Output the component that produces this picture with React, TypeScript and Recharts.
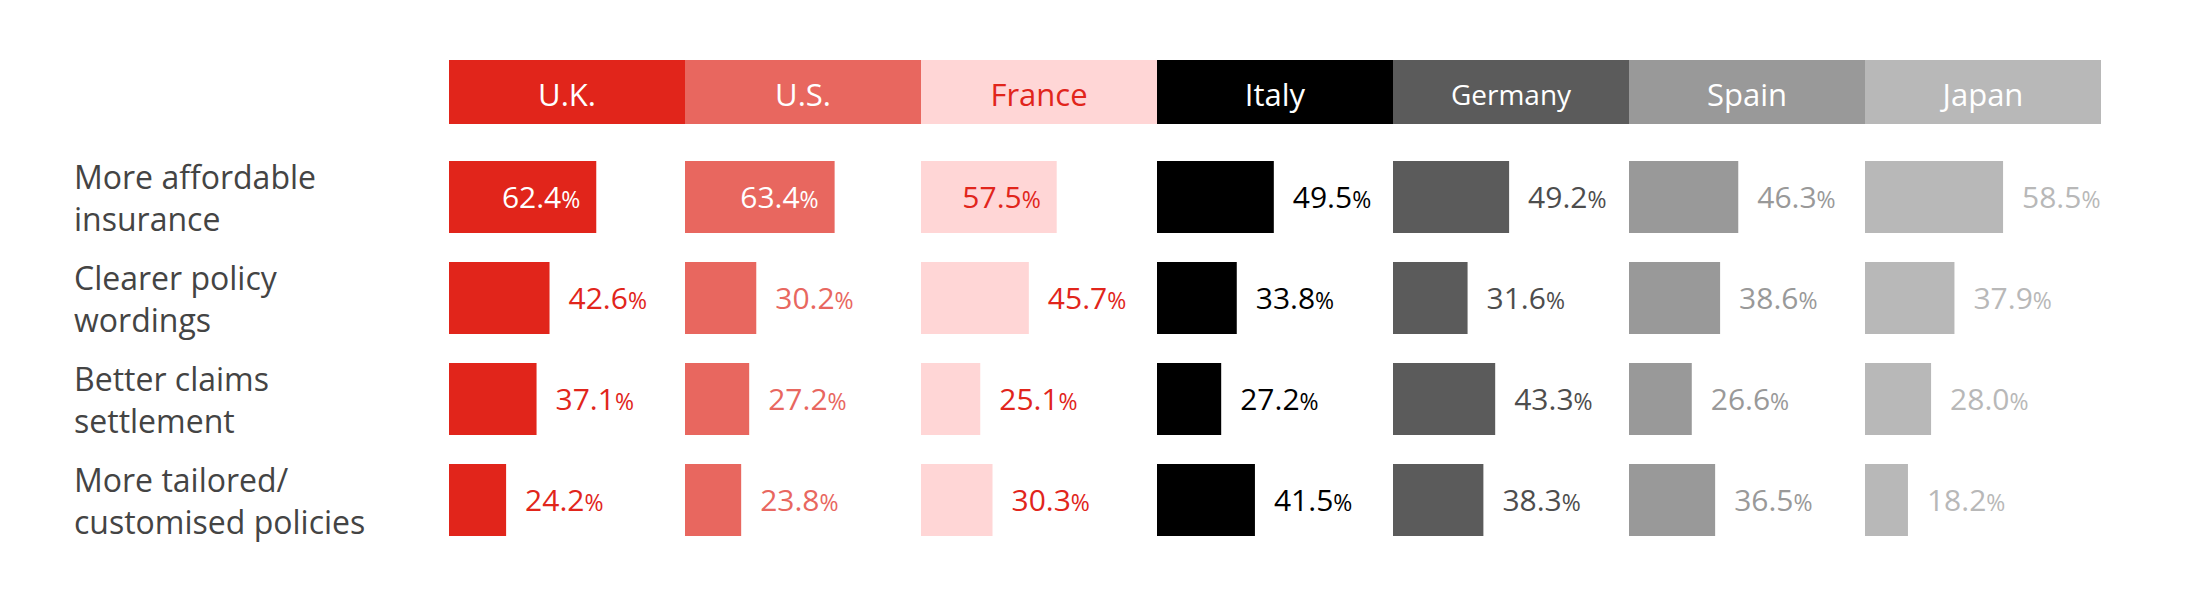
import { BarChart, Bar, XAxis, YAxis, LabelList } from "recharts";

// survey answers, one array per market (percent of respondents)
const reasons = [
  "More affordable insurance",
  "Clearer policy wordings",
  "Better claims settlement",
  "More tailored/ customised policies",
];
const reasonLines = [
  ["More affordable", "insurance"],
  ["Clearer policy", "wordings"],
  ["Better claims", "settlement"],
  ["More tailored/", "customised policies"],
];
const countries = ["U.K.", "U.S.", "France", "Italy", "Germany", "Spain", "Japan"];

const ukValues = [62.4, 42.6, 37.1, 24.2];
const usValues = [63.4, 30.2, 27.2, 23.8];
const franceValues = [57.5, 45.7, 25.1, 30.3];
const italyValues = [49.5, 33.8, 27.2, 41.5];
const germanyValues = [49.2, 31.6, 43.3, 38.3];
const spainValues = [46.3, 38.6, 26.6, 36.5];
const japanValues = [58.5, 37.9, 28.0, 18.2];

const countryValues = [
  ukValues,
  usValues,
  franceValues,
  italyValues,
  germanyValues,
  spainValues,
  japanValues,
];

const FONT = "'Open Sans', 'Noto Sans', sans-serif";
const RED = "#E1251B";

// look of each column (fill, label colours, header text)
const STYLES = [
  { fill: RED, text: RED, head: "#FFFFFF", inside: "#FFFFFF", insideRows: [0], headSize: 31 },
  { fill: "#E8675F", text: "#E8675F", head: "#FFFFFF", inside: "#FFFFFF", insideRows: [0], headSize: 31 },
  { fill: "#FFD6D6", text: RED, head: RED, inside: RED, insideRows: [0], headSize: 31 },
  { fill: "#000000", text: "#000000", head: "#FFFFFF", inside: "#FFFFFF", insideRows: [], headSize: 31 },
  { fill: "#5B5B5B", text: "#4D4D4D", head: "#FFFFFF", inside: "#FFFFFF", insideRows: [], headSize: 28 },
  { fill: "#999999", text: "#999999", head: "#FFFFFF", inside: "#FFFFFF", insideRows: [], headSize: 31 },
  { fill: "#B8B8B8", text: "#B8B8B8", head: "#FFFFFF", inside: "#FFFFFF", insideRows: [], headSize: 31 },
];

const COL_LEFT = 449;
const COL_W = 236;
const CHART_TOP = 146;
const CHART_H = 404;

const ReasonTick = (props: any) => {
  const { y, payload } = props;
  const i = reasons.indexOf(payload.value);
  const lines = reasonLines[i] || [payload.value];
  return (
    <text x={74} y={y} fill="#444444" fontFamily={FONT} fontSize={32}>
      <tspan x={74} y={y - 8}>{lines[0]}</tspan>
      {lines[1] && <tspan x={74} y={y + 34}>{lines[1]}</tspan>}
    </text>
  );
};

const makeLabel = (style: any) => (props: any) => {
  const { x, y, width, height, value, index } = props;
  const inside = style.insideRows.includes(index);
  const tx = inside ? x + width - 16 : x + width + 19;
  return (
    <text
      x={tx}
      y={y + height / 2 + 11}
      textAnchor={inside ? "end" : "start"}
      fill={inside ? style.inside : style.text}
      fontFamily={FONT}
      fontSize={30}
    >
      {Number(value).toFixed(1)}
      <tspan fontSize={23}>%</tspan>
    </text>
  );
};

function CountryColumn({ idx }: { idx: number }) {
  const style = STYLES[idx];
  const withAxis = idx === 0;
  const data = reasons.map((reason, r) => ({ reason, value: countryValues[idx][r] }));
  const left = withAxis ? 0 : COL_LEFT + COL_W * idx;
  const width = withAxis ? COL_LEFT + COL_W : COL_W;

  return (
    <div style={{ position: "absolute", left, top: CHART_TOP }}>
      <BarChart
        width={width}
        height={CHART_H}
        data={data}
        layout="vertical"
        margin={{ top: 0, right: 0, bottom: 0, left: 0 }}
      >
        <XAxis type="number" domain={[0, 100]} hide />
        <YAxis
          type="category"
          dataKey="reason"
          hide={!withAxis}
          width={COL_LEFT}
          axisLine={false}
          tickLine={false}
          tick={<ReasonTick />}
          interval={0}
        />
        <Bar dataKey="value" fill={style.fill} barSize={72} isAnimationActive={false}>
          <LabelList dataKey="value" content={makeLabel(style)} />
        </Bar>
      </BarChart>
    </div>
  );
}

export default function App() {
  return (
    <div
      style={{
        position: "absolute",
        left: 0,
        top: 0,
        width: 2185,
        height: 589,
        background: "#FFFFFF",
        overflow: "hidden",
      }}
    >
      {countries.map((c, i) => (
        <div
          key={c}
          style={{
            position: "absolute",
            left: COL_LEFT + COL_W * i,
            top: 60,
            width: COL_W,
            height: 64,
            lineHeight: "64px",
            paddingTop: 2,
            boxSizing: "border-box",
            background: STYLES[i].fill,
            color: STYLES[i].head,
            fontFamily: FONT,
            fontSize: STYLES[i].headSize,
            textAlign: "center",
          }}
        >
          {c}
        </div>
      ))}
      {countries.map((c, i) => (
        <CountryColumn key={c} idx={i} />
      ))}
    </div>
  );
}
